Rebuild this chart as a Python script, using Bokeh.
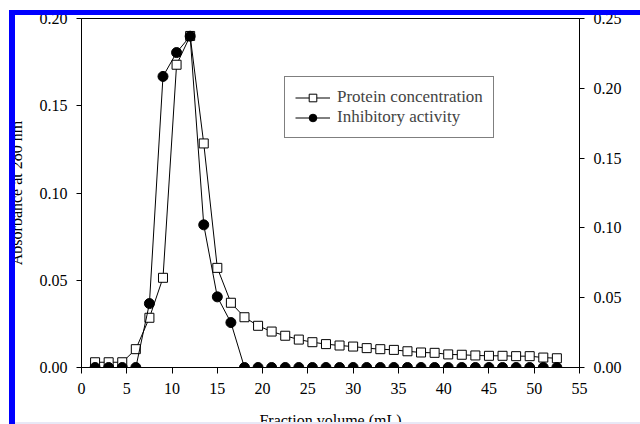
from bokeh.plotting import figure
from bokeh.models import (LinearAxis, Range1d, FixedTicker, NumeralTickFormatter, Legend,
                          LegendItem, GlobalInlineStyleSheet)
from bokeh.embed import file_html
from bokeh.resources import INLINE

# ---- data ----
fraction_ml = [1.5, 3.0, 4.5, 6.0, 7.5, 9.0, 10.5, 12.0, 13.5, 15.0, 16.5, 18.0, 19.5,
               21.0, 22.5, 24.0, 25.5, 27.0, 28.5, 30.0, 31.5, 33.0, 34.5, 36.0, 37.5,
               39.0, 40.5, 42.0, 43.5, 45.0, 46.5, 48.0, 49.5, 51.0, 52.5]
protein_abs = [0.003, 0.003, 0.003, 0.0105, 0.0285, 0.0514, 0.1735, 0.190, 0.1284, 0.0571,
               0.0371, 0.0288, 0.0239, 0.0206, 0.0182, 0.0160, 0.0145, 0.0134, 0.0126,
               0.0120, 0.0111, 0.0105, 0.0101, 0.0093, 0.0086, 0.0084, 0.0075, 0.0073,
               0.0069, 0.0067, 0.0067, 0.0065, 0.0065, 0.0057, 0.0053]
inhibitory = [0.0, 0.0, 0.0, 0.0, 0.0458, 0.2085, 0.2256, 0.2373, 0.1022, 0.0506, 0.0322,
              0.0, 0.0, 0.0, 0.0, 0.0, 0.0, 0.0, 0.0, 0.0, 0.0, 0.0, 0.0, 0.0, 0.0, 0.0,
              0.0, 0.0, 0.0, 0.0, 0.0, 0.0, 0.0, 0.0, 0.0]
x_ticks = [0, 5, 10, 15, 20, 25, 30, 35, 40, 45, 50, 55]
left_ticks = [0.0, 0.05, 0.10, 0.15, 0.20]
right_ticks = [0.0, 0.05, 0.10, 0.15, 0.20, 0.25]
x_title = "Fraction volume (mL)"
left_title = "Absorbance at 280 nm"
right_title = "Inhibitory activity (%)"
series_names = ["Protein concentration", "Inhibitory activity"]

FONT = "Liberation Serif"

# The reference is a cropped screenshot: its axis titles run off the right and bottom
# edges, so the canvas is a little larger than the window and the overflow is hidden.
page_css = """
html, body { overflow: hidden; }
body::before { content: ""; position: fixed; left: 9px; top: 10px; right: 0; bottom: 0;
  border-left: 6px solid #0000ff; border-top: 5px solid #0000ff;
  pointer-events: none; z-index: 10; }
body::after { content: ""; position: fixed; left: 15px; right: 0; bottom: 0; height: 2px;
  background: #e8e8f6; pointer-events: none; z-index: 10; }
"""

p = figure(width=661, height=435, output_backend="svg", toolbar_location=None,
           x_range=Range1d(0, 55), y_range=Range1d(0, 0.20),
           min_border_left=81, min_border_right=82, min_border_top=18, min_border_bottom=68)
p.stylesheets = [GlobalInlineStyleSheet(css=page_css)]
p.extra_y_ranges = {"act": Range1d(0, 0.25)}
p.add_layout(LinearAxis(y_range_name="act"), "right")

p.grid.visible = False
p.outline_line_color = "black"
p.outline_line_width = 1
p.background_fill_color = "white"
p.border_fill_color = "white"

for ax in p.axis:
    ax.axis_line_color = "black"
    ax.major_tick_line_color = "black"
    ax.major_tick_in = 0
    ax.major_tick_out = 5
    ax.minor_tick_line_color = None
    ax.major_label_text_font = FONT
    ax.major_label_text_font_size = "16px"
    ax.major_label_text_color = "black"
    ax.major_label_standoff = 9
    ax.axis_label_text_font = FONT
    ax.axis_label_text_font_size = "16px"
    ax.axis_label_text_font_style = "normal"
    ax.axis_label_text_color = "black"

xa = p.xaxis[0]
xa.ticker = FixedTicker(ticks=x_ticks)
xa.formatter = NumeralTickFormatter(format="0")
xa.major_tick_out = 6
xa.axis_label = x_title
xa.axis_label_standoff = 15

ya = p.yaxis[0]
ya.ticker = FixedTicker(ticks=left_ticks)
ya.formatter = NumeralTickFormatter(format="0.00")
ya.axis_label = left_title
ya.axis_label_standoff = 12

yr = p.yaxis[1]
yr.ticker = FixedTicker(ticks=right_ticks)
yr.formatter = NumeralTickFormatter(format="0.00")
yr.axis_label = right_title
yr.axis_label_standoff = 17

pl = p.line(fraction_ml, protein_abs, line_color="black", line_width=1)
ps = p.scatter(fraction_ml, protein_abs, marker="square", size=9, fill_color="white",
               line_color="black", line_width=1)
al = p.line(fraction_ml, inhibitory, line_color="black", line_width=1, y_range_name="act")
ac = p.scatter(fraction_ml, inhibitory, marker="circle", size=10, fill_color="black",
               line_color="black", y_range_name="act")

legend = Legend(items=[LegendItem(label=series_names[0], renderers=[pl, ps]),
                       LegendItem(label=series_names[1], renderers=[al, ac])],
                location=(203, 229), margin=0, padding=10, spacing=0,
                glyph_width=35, glyph_height=19, label_height=19, label_standoff=7,
                label_text_font=FONT, label_text_font_size="17px",
                border_line_color="black", border_line_width=1,
                background_fill_color="white", background_fill_alpha=1)
p.add_layout(legend)

open("out.html", "w").write(file_html(p, INLINE))
